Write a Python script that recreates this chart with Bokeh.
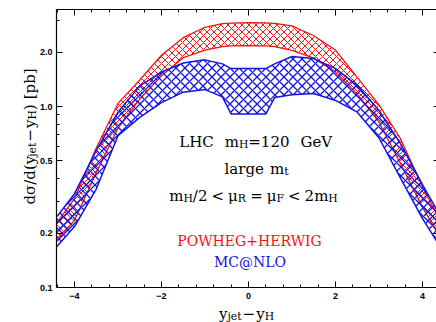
import numpy as np
from math import pi
from bokeh.plotting import figure
from bokeh.models import Label, FixedTicker, PrintfTickFormatter, LinearAxis, LogAxis, Range1d
from bokeh.embed import file_html
from bokeh.resources import INLINE

# ---------------- data ----------------
dy = [-4.4, -4.0, -3.5, -3.0, -2.5, -2.0, -1.5, -1.0, -0.6, -0.4, 0.0,
      0.4, 0.6, 1.0, 1.5, 2.0, 2.5, 3.0, 3.5, 4.0, 4.4]
powheg_hi = [0.229, 0.31, 0.59, 1.04, 1.40, 1.92, 2.40, 2.74, 2.87, 2.89, 2.91,
             2.90, 2.88, 2.79, 2.46, 2.05, 1.45, 1.02, 0.66, 0.36, 0.235]
powheg_lo = [0.182, 0.235, 0.43, 0.76, 1.10, 1.48, 1.86, 2.05, 2.14, 2.16, 2.17,
             2.16, 2.14, 2.04, 1.85, 1.55, 1.17, 0.82, 0.48, 0.277, 0.19]
mcnlo_hi = [0.247, 0.33, 0.57, 0.93, 1.30, 1.55, 1.74, 1.81, 1.72, 1.62, 1.62,
            1.62, 1.72, 1.89, 1.84, 1.62, 1.31, 0.95, 0.62, 0.37, 0.25]
mcnlo_lo = [0.169, 0.217, 0.35, 0.69, 0.87, 1.05, 1.20, 1.24, 1.13, 0.91, 0.91,
            0.91, 1.12, 1.16, 1.18, 1.08, 0.93, 0.67, 0.40, 0.24, 0.169]

x_major = [-4, -2, 0, 2, 4]
y_major = [0.1, 0.2, 0.5, 1.0, 2.0]
y_minor = [0.3, 0.4, 0.6, 0.7, 0.8, 0.9, 3.0]

RED = "#f01414"
BLUE = "#1414e0"

# ---------------- geometry (canvas pixels) ----------------
W_FIG, H_FIG = 436, 322
PX_X = 43.5           # px per unit of y_jet - y_H
X0_PX = 248           # canvas x of value 0
PX_DEC = 181.0        # px per decade
ONE_PX = 106          # canvas y (from top) of value 1.0

def xv(px):
    return (px - X0_PX) / PX_X

def yv(py):
    return 10 ** ((ONE_PX - py) / PX_DEC)

box_l, box_r = xv(56), 4.4
box_b, box_t = 0.1, yv(9)

p = figure(width=W_FIG, height=H_FIG,
           x_range=Range1d(xv(0), xv(W_FIG)), y_range=Range1d(yv(H_FIG), yv(0)),
           y_axis_type="log", output_backend="svg", toolbar_location=None,
           min_border_left=0, min_border_right=0, min_border_top=0,
           min_border_bottom=0, background_fill_color="white",
           border_fill_color="white")
p.grid.visible = False
p.outline_line_color = None

x_minor = [round(v, 2) for v in np.arange(-4.4, 4.41, 0.4)
           if min(abs(v - m) for m in x_major) > 1e-6]
xt = FixedTicker(ticks=x_major, minor_ticks=x_minor)
yt = FixedTicker(ticks=y_major, minor_ticks=y_minor)

def style_axis(ax, labels=True):
    ax.major_tick_in = 6
    ax.major_tick_out = 0
    ax.minor_tick_in = 3
    ax.minor_tick_out = 0
    ax.axis_line_color = "black"
    ax.axis_line_width = 1.2
    ax.major_tick_line_color = "black"
    ax.minor_tick_line_color = "black"
    if labels:
        ax.major_label_text_font = "Liberation Sans"
        ax.major_label_text_font_style = "bold"
        ax.major_label_text_font_size = "9px"
        ax.major_label_text_color = "black"
    else:
        ax.major_label_text_color = None
        ax.major_label_text_font_size = "9px"
        ax.major_label_standoff = 0

xa = p.xaxis[0]
ya = p.yaxis[0]
xa.ticker = xt
ya.ticker = yt
ya.formatter = PrintfTickFormatter(format="%.1f")
style_axis(xa)
style_axis(ya)
xa.major_label_standoff = 5
ya.major_label_standoff = 4
xa.fixed_location = box_b
xa.bounds = (box_l, box_r)
ya.fixed_location = box_l
ya.bounds = (box_b, box_t)

top = LinearAxis(ticker=xt, fixed_location=box_t, bounds=(box_l, box_r))
style_axis(top, labels=False)
p.add_layout(top, "above")
right = LogAxis(ticker=yt, fixed_location=box_r, bounds=(box_b, box_t))
style_axis(right, labels=False)
p.add_layout(right, "right")

# ---------------- bands ----------------
p.varea(x=dy, y1=powheg_lo, y2=powheg_hi, fill_color=None, fill_alpha=0,
        hatch_pattern="diagonal_cross", hatch_color=RED, hatch_scale=7,
        hatch_weight=1.0)
p.line(dy, powheg_hi, line_color=RED, line_width=1.3)
p.line(dy, powheg_lo, line_color=RED, line_width=1.3)

p.varea(x=dy, y1=mcnlo_lo, y2=mcnlo_hi, fill_color=None, fill_alpha=0,
        hatch_pattern="diagonal_cross", hatch_color=BLUE, hatch_scale=9,
        hatch_weight=1.3)
p.line(dy, mcnlo_hi, line_color=BLUE, line_width=1.5)
p.line(dy, mcnlo_lo, line_color=BLUE, line_width=1.5)

# ---------------- rich text helper ----------------
W = {' ': .318, '0': .636, '1': .636, '2': .636, '/': .337, '<': .838, '=': .838,
     '+': .838, '(': .390, ')': .390, '[': .390, ']': .390, '@': 1.0,
     'a': .596, 'b': .640, 'd': .640, 'e': .592, 'g': .640, 'j': .320, 'l': .320,
     'm': .948, 'p': .640, 'r': .478, 't': .402, 'y': .565,
     'C': .734, 'E': .730, 'F': .690, 'G': .775, 'H': .872, 'I': .402, 'L': .694,
     'M': .995, 'N': .872, 'O': .787, 'P': .701, 'R': .770, 'V': .722, 'W': 1.10,
     'μ': .656, 'σ': .617, '−': .838}

def tw(s, size):
    return sum(W.get(c, 0.6) for c in s) * size

def add_label(x, y, text, size, color, angle=0.0):
    p.add_layout(Label(x=x, y=H_FIG - y, angle=angle, angle_units="rad",
                       x_units="screen", y_units="screen", text=text,
                       text_font="DejaVu Serif", text_font_size=f"{size:.1f}px",
                       text_color=color, text_align="left",
                       text_baseline="alphabetic"))

def rich(segs, cx, base, size, color, sub_ratio=0.72, drop=0.22):
    """segs: (text, is_sub, gap_before_px); cx / base in canvas pixels."""
    sizes = [size * sub_ratio if s[1] else size for s in segs]
    widths = [tw(s[0], z) + s[2] for s, z in zip(segs, sizes)]
    pos = cx - sum(widths) / 2
    for (text, sub, gap), z, w in zip(segs, sizes, widths):
        off = drop * size if sub else 0
        add_label(pos + gap, base + off, text, z, color)
        pos += w

def rich_rot(segs, cy, base_x, size, color, sub_ratio=0.72, drop=0.22):
    """Text rotated 90 deg, reading upward; baseline on the right at base_x."""
    sizes = [size * sub_ratio if s[1] else size for s in segs]
    widths = [tw(s[0], z) + s[2] for s, z in zip(segs, sizes)]
    pos = cy + sum(widths) / 2
    for (text, sub, gap), z, w in zip(segs, sizes, widths):
        off = drop * size if sub else 0
        add_label(base_x + off, pos - gap, text, z, color, angle=pi / 2)
        pos -= w

# annotation block
rich([("LHC", False, 0), ("m", False, 11), ("H", True, 0), ("=120", False, 0),
      ("GeV", False, 11)], 255, 141, 15, "black")
rich([("large", False, 0), ("m", False, 6), ("t", True, 0)], 256, 168, 15, "black")
rich([("m", False, 0), ("H", True, 0), ("/2", False, 0), ("<", False, 4),
      ("μ", False, 4), ("R", True, 0), ("=", False, 4), ("μ", False, 4),
      ("F", True, 0), ("<", False, 4), ("2m", False, 4), ("H", True, 0)],
     253, 195, 15, "black")
rich([("POWHEG+HERWIG", False, 0)], 250, 240, 14, RED)
rich([("MC@NLO", False, 0)], 249, 261, 14, BLUE)

# axis titles
rich([("y", False, 0), ("jet", True, 0), ("−", False, 1), ("y", False, 1),
      ("H", True, 0)], 246, 313, 15, "black")
rich_rot([("dσ/d(y", False, 0), ("jet", True, 0), ("−", False, 1), ("y", False, 1),
          ("H", True, 0), (")", False, 0), ("[pb]", False, 5)], 136, 29, 15, "black")

open("out.html", "w").write(file_html(p, INLINE))
